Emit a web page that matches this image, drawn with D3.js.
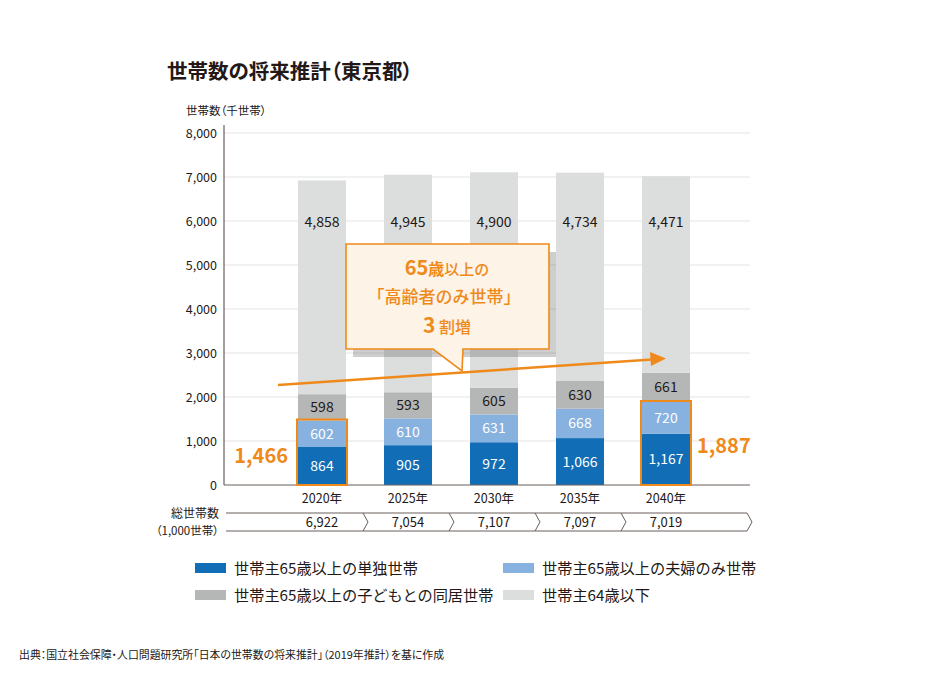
<!DOCTYPE html>
<html><head><meta charset="utf-8">
<script src="https://cdn.jsdelivr.net/npm/d3@7"></script>
<style>
body{margin:0;background:#fff;}
text{font-family:"Noto Sans CJK JP","Noto Sans",sans-serif;}
.palt{font-feature-settings:"palt";}
</style></head>
<body>
<svg id="c" width="940" height="679"></svg>
<script>
const years = ["2020年","2025年","2030年","2035年","2040年"];
const single65 = [864, 905, 972, 1066, 1167];
const couple65 = [602, 610, 631, 668, 720];
const withChild65 = [598, 593, 605, 630, 661];
const under64 = [4858, 4945, 4900, 4734, 4471];
const totals = [6922, 7054, 7107, 7097, 7019];
const elderlyOnly = [1466, 1887];
const yTicks = [0,1000,2000,3000,4000,5000,6000,7000,8000];
const seriesNames = ["世帯主65歳以上の単独世帯","世帯主65歳以上の夫婦のみ世帯","世帯主65歳以上の子どもとの同居世帯","世帯主64歳以下"];
const colors = ["#106db6","#87b2e0","#b5b6b6","#dcdddd"];
const textColors = ["#fff","#fff","#231815","#231815"];

const svg = d3.select("#c");
const orange = "#ef8a1a";
const x = d3.scaleBand().domain(years).range([279,709]).paddingInner(0.442).paddingOuter(0.221);
const y = d3.scaleLinear().domain([0,8000]).range([485,133]);

// title
svg.append("text").attr("class","palt").attr("x",167).attr("y",79).attr("font-size",20.5).attr("font-weight",700).attr("fill","#231815").text("世帯数の将来推計（東京都）");
svg.append("text").attr("class","palt").attr("x",186).attr("y",115).attr("font-size",11.5).attr("fill","#231815").text("世帯数（千世帯）");

// grid
svg.append("g").selectAll("line").data(yTicks.slice(1)).join("line")
  .attr("x1",224).attr("x2",750).attr("y1",d=>y(d)).attr("y2",d=>y(d))
  .attr("stroke","#e3e3e3").attr("stroke-width",1.2);
svg.append("g").selectAll("text").data(yTicks).join("text")
  .attr("x",217).attr("y",d=>y(d)+4.5).attr("text-anchor","end").attr("font-size",12.5).attr("fill","#231815")
  .text(d=>d3.format(",")(d));

// stacked bars
const rows = years.map((yr,i)=>({year:yr, s0:single65[i], s1:couple65[i], s2:withChild65[i], s3:under64[i]}));
const stack = d3.stack().keys(["s0","s1","s2","s3"])(rows);
const gBars = svg.append("g");
stack.forEach((layer,k)=>{
  gBars.append("g").selectAll("rect").data(layer).join("rect")
    .attr("x",d=>x(d.data.year)).attr("width",x.bandwidth())
    .attr("y",d=>y(d[1])).attr("height",d=>y(d[0])-y(d[1]))
    .attr("fill",colors[k]);
});
// labels
stack.forEach((layer,k)=>{
  gBars.append("g").selectAll("text").data(layer).join("text")
    .attr("x",d=>x(d.data.year)+x.bandwidth()/2)
    .attr("y",d=> k===3 ? y(6000)+6 : (y(d[0])+y(d[1]))/2+5)
    .attr("text-anchor","middle").attr("font-size",14).attr("fill",textColors[k])
    .text(d=>d3.format(",")(d[1]-d[0]));
});

// axes lines
svg.append("line").attr("x1",224).attr("x2",224).attr("y1",125).attr("y2",485).attr("stroke","#6b5f5b").attr("stroke-width",1.2);
svg.append("line").attr("x1",224).attr("x2",750).attr("y1",485).attr("y2",485).attr("stroke","#6b5f5b").attr("stroke-width",1.2);

// orange boxes
const boxIdx = [0,4];
boxIdx.forEach((i,j)=>{
  svg.append("rect").attr("x",x(years[i])-1).attr("width",x.bandwidth()+2)
    .attr("y",y(single65[i]+couple65[i])-1).attr("height",y(0)-y(single65[i]+couple65[i])+1)
    .attr("fill","none").attr("stroke",orange).attr("stroke-width",2);
});
svg.append("text").attr("x",x(years[0])-10).attr("y",y(700)+9).attr("text-anchor","end")
  .attr("font-size",20).attr("font-weight",700).attr("fill",orange).text(d3.format(",")(elderlyOnly[0]));
svg.append("text").attr("x",x(years[4])+x.bandwidth()+7).attr("y",y(930)+9).attr("text-anchor","start")
  .attr("font-size",20).attr("font-weight",700).attr("fill",orange).text(d3.format(",")(elderlyOnly[1]));

// callout shadow
svg.append("rect").attr("x",353).attr("y",252).attr("width",203).attr("height",105).attr("fill","rgba(80,80,80,0.28)");
// callout box with tail
const cb = {x0:346,y0:244,x1:549,y1:349};
const path = `M${cb.x0},${cb.y0} L${cb.x1},${cb.y0} L${cb.x1},${cb.y1} L463,${cb.y1} L462,371 L433,${cb.y1} L${cb.x0},${cb.y1} Z`;
svg.append("path").attr("d",path).attr("fill","#fdf3e7").attr("stroke",orange).attr("stroke-width",1.6);

// arrow line
svg.append("line").attr("x1",278).attr("y1",385).attr("x2",652).attr("y2",359.5).attr("stroke",orange).attr("stroke-width",2.4);
svg.append("path").attr("d","M666,358.5 L650,352 L651,366 Z").attr("fill",orange);

const tc = 447;
const t1 = svg.append("text").attr("x",tc).attr("y",275).attr("text-anchor","middle").attr("fill",orange).attr("font-weight",700);
t1.append("tspan").attr("font-size",20).text("65");
t1.append("tspan").attr("font-size",16).text("歳");
t1.append("tspan").attr("font-size",15).attr("font-weight",500).text("以上の");
svg.append("text").attr("x",tc-3).attr("y",303).attr("text-anchor","middle").attr("fill",orange).attr("font-size",17).attr("font-weight",500).text("「高齢者のみ世帯」");
const t3 = svg.append("text").attr("x",tc).attr("y",333).attr("text-anchor","middle").attr("fill",orange).attr("font-weight",700);
t3.append("tspan").attr("font-size",21).text("3");
t3.append("tspan").attr("font-size",16).attr("font-weight",500).text(" 割増");

// x labels
svg.append("g").selectAll("text").data(years).join("text")
  .attr("x",d=>x(d)+x.bandwidth()/2).attr("y",503).attr("text-anchor","middle").attr("font-size",12.5).attr("fill","#231815").text(d=>d);

// totals row
svg.append("text").attr("x",219).attr("y",518).attr("text-anchor","end").attr("font-size",12).attr("fill","#231815").text("総世帯数");
svg.append("text").attr("class","palt").attr("x",219).attr("y",535).attr("text-anchor","end").attr("font-size",11.5).attr("fill","#231815").text("（1,000世帯）");
const rowTop = 513, rowBot = 531, rowMid = 522;
const step = x.step();
const divs = years.map((d,i)=> x(d)+x.bandwidth()/2 + step/2);
const endX = 750;
let p = `M226,${rowTop} L${endX-3},${rowTop} L${endX+2},${rowMid} L${endX-3},${rowBot} L226,${rowBot}`;
svg.append("path").attr("d",p).attr("fill","none").attr("stroke","#6b5f5b").attr("stroke-width",1);
svg.append("g").selectAll("path").data(divs.slice(0,4)).join("path")
  .attr("d",d=>`M${d-2},${rowTop} L${d+3},${rowMid} L${d-2},${rowBot}`).attr("fill","none").attr("stroke","#6b5f5b").attr("stroke-width",1);
svg.append("g").selectAll("text").data(totals).join("text")
  .attr("x",(d,i)=>x(years[i])+x.bandwidth()/2).attr("y",527).attr("text-anchor","middle").attr("font-size",13).attr("fill","#231815")
  .text(d=>d3.format(",")(d));

// legend
const lg = [[195,568],[503,568],[195,595],[503,595]];
seriesNames.forEach((n,i)=>{
  svg.append("rect").attr("x",lg[i][0]).attr("y",lg[i][1]-5).attr("width",31).attr("height",10).attr("fill",colors[i]);
  svg.append("text").attr("x",lg[i][0]+39).attr("y",lg[i][1]+5.5).attr("font-size",15.2).attr("fill","#231815").text(n);
});

// source
svg.append("text").attr("class","palt").attr("x",19).attr("y",659).attr("font-size",10.9).attr("fill","#231815").text("出典：国立社会保障・人口問題研究所「日本の世帯数の将来推計」（2019年推計）を基に作成");
</script>
</body></html>
